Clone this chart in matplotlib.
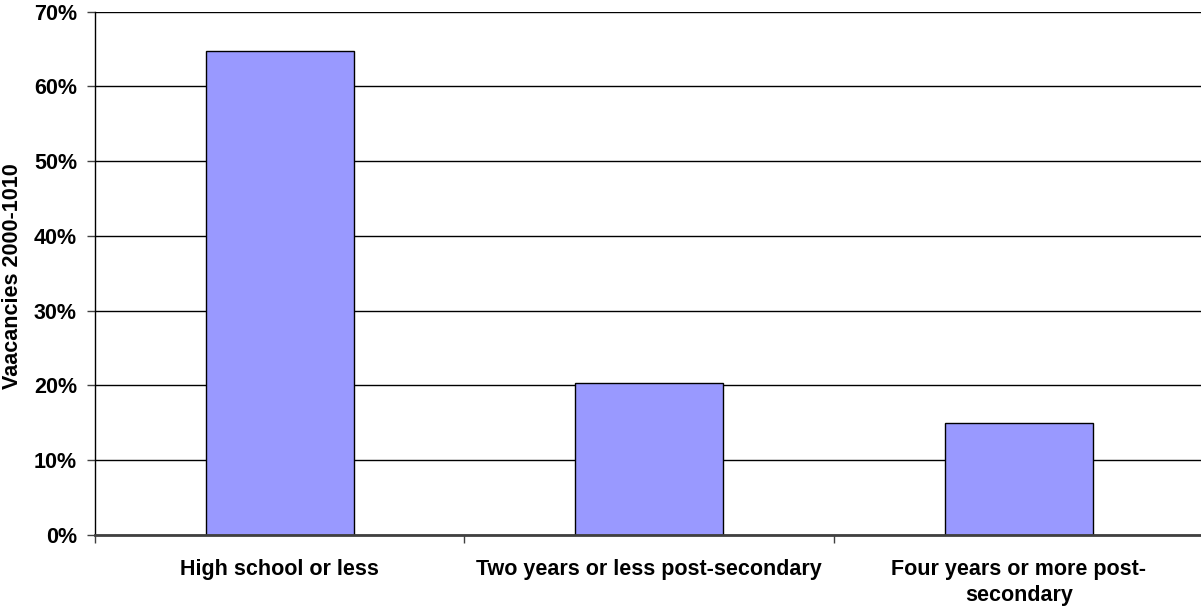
import matplotlib
matplotlib.use("Agg")
import matplotlib.pyplot as plt
from matplotlib.ticker import FuncFormatter, FixedLocator
import numpy as np

categories = ["High school or less",
              "Two years or less post-secondary",
              "Four years or more post-\nsecondary"]
shares = [64.7, 20.3, 15.0]
y_ticks = [0, 10, 20, 30, 40, 50, 60, 70]

plt.rcParams["font.family"] = ["Liberation Sans", "DejaVu Sans"]
plt.rcParams["font.weight"] = "bold"
FS = 15.5

fig = plt.figure(figsize=(12.01, 6.06), dpi=100)
ax = fig.add_axes([95 / 1201, (606 - 535) / 606, 1 - 95 / 1201 + 0.002, (535 - 11.5) / 606])

x = np.arange(len(categories))
ax.bar(x, shares, width=0.4, color="#9999FF", edgecolor="black", linewidth=1.0, zorder=3)

ax.set_xlim(-0.5, len(categories) - 0.5)
ax.set_ylim(0, 70)
ax.yaxis.set_major_locator(FixedLocator(y_ticks))
ax.yaxis.set_major_formatter(FuncFormatter(lambda v, _: f"{v:.0f}%"))
ax.grid(axis="y", color="black", linewidth=1.0, zorder=0)

# category labels centred under bars, tick marks between categories
ax.set_xticks(x)
ax.set_xticklabels(categories, fontsize=FS, fontweight="bold", linespacing=1.34)
ax.tick_params(axis="x", which="major", length=0, pad=17)
ax.set_xticks(np.arange(len(categories) + 1) - 0.5, minor=True)
ax.tick_params(axis="x", which="minor", length=6, width=1, color="#404040", direction="out")

ax.tick_params(axis="y", length=6, width=1, color="#404040", pad=7, labelsize=FS)
for lbl in ax.get_yticklabels():
    lbl.set_fontweight("bold")

for side in ("top", "right"):
    ax.spines[side].set_visible(False)
ax.spines["left"].set_color("black")
ax.spines["left"].set_linewidth(1.0)
ax.spines["bottom"].set_color("#404040")
ax.spines["bottom"].set_linewidth(2.0)
ax.spines["bottom"].set_zorder(4)

fig.text(13 / 1201, (606 - 276) / 606, "Vaacancies 2000-1010", rotation=90,
         ha="center", va="center", fontsize=FS, fontweight="bold")

fig.savefig("out.png", dpi=100)
